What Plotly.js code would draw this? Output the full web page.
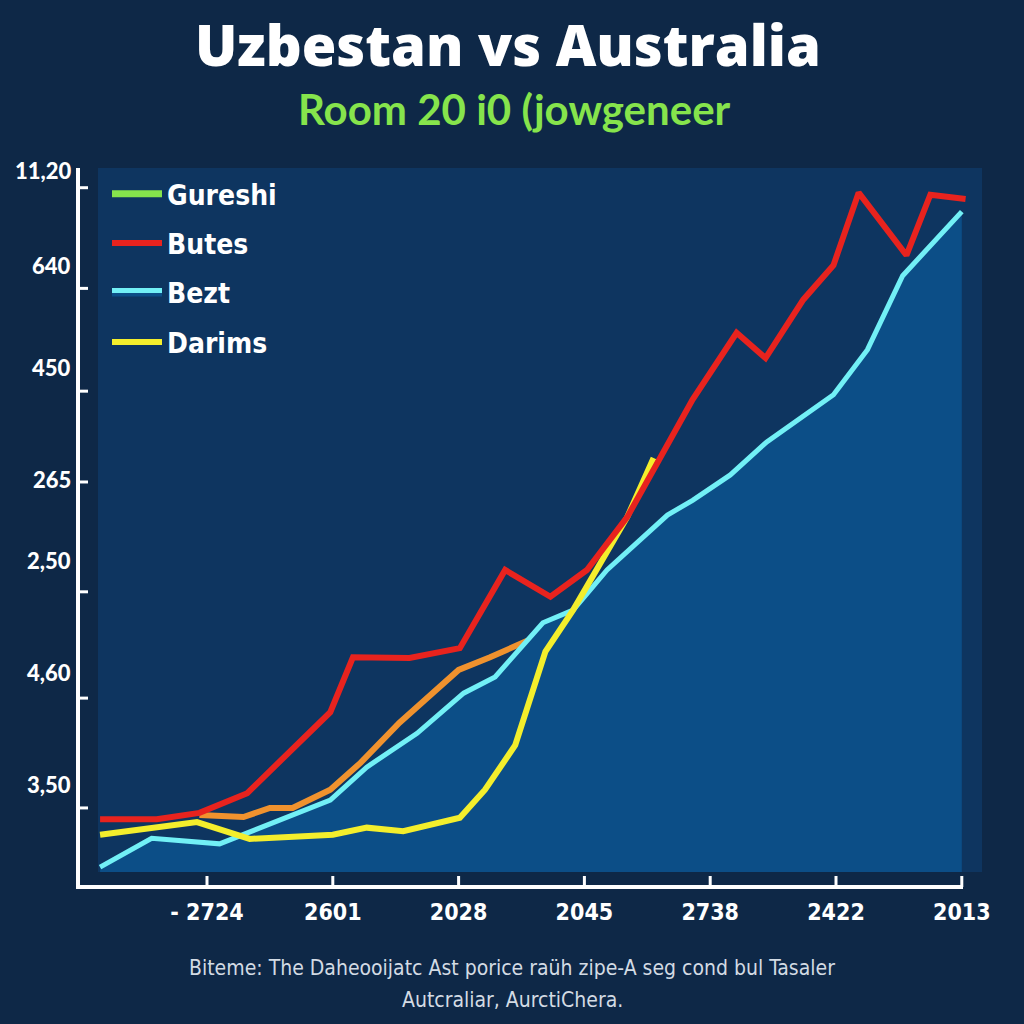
<!DOCTYPE html>
<html>
<head>
<meta charset="utf-8">
<script src="https://cdn.plot.ly/plotly-3.0.1.min.js"></script>
<style>
  html, body { margin: 0; padding: 0; background: #0e2847; }
  #chart { width: 1024px; height: 1024px; }
</style>
</head>
<body>
<div id="chart"></div>
<script>
// ---- Data ----
const titleText = "Uzbestan vs Australia";
const subtitleText = "Room 20 i0 (jowgeneer";
const footerLine1 = "Biteme: The Daheoo\u0133atc Ast porice ra\u00fch zipe-A seg cond bul Tasaler";
const footerLine2 = "Autcraliar, AurctiChera.";

const xTickVals = [1, 2, 3, 4, 5, 6, 7];
const xTickText = ["- 2724", "2601", "2028", "2045", "2738", "2422", "2013"];

const yTickVals = [97.2, 82.9, 68.3, 55.4, 39.8, 24.7, 9.1];
const yLabelVals = [99.7, 86.2, 71.6, 55.7, 44.2, 28.4, 12.4, -1.4];
const yLabelText = ["11,20", "640", "450", "265", "2,50", "4,60", "3,50", "0"];

const seriesNames = ["Gureshi", "Butes", "Bezt", "Darims"];

const butesX = [0.15, 0.60, 0.94, 1.32, 1.98, 2.16, 2.61, 3.01, 3.37, 3.73, 4.02, 4.34, 4.86, 5.21, 5.44, 5.74, 5.98, 6.18, 6.56, 6.75, 7.03];
const butesY = [7.5, 7.5, 8.4, 11.2, 22.7, 30.5, 30.4, 31.8, 42.9, 39.1, 42.9, 50.4, 67.1, 76.6, 73.0, 81.3, 86.2, 96.5, 87.6, 96.2, 95.6];

const beztX = [0.15, 0.56, 1.10, 1.45, 1.68, 1.98, 2.27, 2.67, 3.04, 3.29, 3.67, 3.91, 4.18, 4.66, 4.86, 5.16, 5.45, 5.98, 6.25, 6.53, 7.00];
const beztY = [0.7, 4.8, 4.0, 6.4, 8.1, 10.2, 14.9, 19.7, 25.4, 27.7, 35.4, 37.2, 42.9, 50.7, 52.8, 56.4, 61.1, 67.8, 74.2, 84.7, 93.8];

const darimsX = [0.15, 0.92, 1.34, 2.00, 2.27, 2.56, 3.01, 3.21, 3.45, 3.69, 3.91, 4.34, 4.55];
const darimsY = [5.3, 7.1, 4.7, 5.3, 6.3, 5.8, 7.7, 11.7, 18.0, 31.3, 37.2, 50.4, 58.8];

const orangeX = [0.94, 1.29, 1.50, 1.68, 1.98, 2.22, 2.53, 3.00, 3.25, 3.78];
const orangeY = [8.1, 7.8, 9.1, 9.1, 11.7, 15.5, 21.2, 28.7, 30.5, 34.7];

const gureshiX = [null];
const gureshiY = [null];

// ---- Styles ----
const C = {
  paper: "#0e2847",
  plot: "#0e3560",
  fill: "#0c4e87",
  red: "#e8231e",
  cyan: "#72f0f6",
  yellow: "#f4ee2c",
  orange: "#f0922e",
  green: "#86e44c",
  white: "#ffffff"
};
const COND = "DejaVu Sans Condensed, Liberation Sans Narrow, Roboto, sans-serif";
const HEAVY = "Lato, Open Sans, DejaVu Sans, sans-serif";
const TITLEF = "Open Sans, Lato, DejaVu Sans, sans-serif";

// plot area geometry in pixels (for placing decorations outside it)
const L = 98, R = 982, T = 168, B = 872;
const W = R - L, H = B - T;
const px2paperX = px => (px - L) / W;
const px2paperY = py => (B - py) / H;
function px2t(px) { return 1 + (px - 207) / 125.8; }

const traces = [
  { name: seriesNames[0], x: gureshiX, y: gureshiY, type: "scatter", mode: "lines",
    line: { color: C.green, width: 7 }, legendgroup: "g1", legendrank: 1 },
  { name: "orange", x: orangeX, y: orangeY, type: "scatter", mode: "lines",
    line: { color: C.orange, width: 6 }, showlegend: false },
  { name: seriesNames[2], x: beztX, y: beztY, type: "scatter", mode: "lines",
    fill: "tozeroy", fillcolor: C.fill,
    line: { color: C.cyan, width: 5 }, legendgroup: "g3", legendrank: 3 },
  { name: seriesNames[3], x: darimsX, y: darimsY, type: "scatter", mode: "lines",
    line: { color: C.yellow, width: 6 }, legendgroup: "g4", legendrank: 4 },
  { name: seriesNames[1], x: butesX, y: butesY, type: "scatter", mode: "lines",
    line: { color: C.red, width: 6 }, legendgroup: "g2", legendrank: 2 }
];

const shapes = [];
const axisLine = { color: C.white, width: 4 };
shapes.push({ type: "line", xref: "paper", yref: "paper",
  x0: px2paperX(78), x1: px2paperX(78), y0: px2paperY(887), y1: 1, line: axisLine });
shapes.push({ type: "line", xref: "paper", yref: "paper",
  x0: px2paperX(76), x1: px2paperX(963), y0: px2paperY(887), y1: px2paperY(887), line: axisLine });
yTickVals.forEach(v => shapes.push({ type: "line", xref: "paper", yref: "y",
  x0: px2paperX(78), x1: px2paperX(88), y0: v, y1: v, line: { color: C.white, width: 3 } }));
xTickVals.forEach(v => shapes.push({ type: "line", xref: "x", yref: "paper",
  x0: v, x1: v, y0: px2paperY(887), y1: px2paperY(876), line: { color: C.white, width: 3 } }));

const annotations = [];
yLabelVals.forEach((v, i) => annotations.push({
  xref: "paper", yref: "y", x: px2paperX(73), y: v, xanchor: "right", yanchor: "middle",
  text: yLabelText[i], showarrow: false,
  font: { family: HEAVY, size: 22, weight: 900, color: C.white }
}));
annotations.push({
  xref: "paper", yref: "paper", x: px2paperX(514), y: px2paperY(109),
  xanchor: "center", yanchor: "middle", text: subtitleText, showarrow: false,
  font: { family: HEAVY, size: 42, weight: 700, color: C.green }
});
annotations.push({
  xref: "paper", yref: "paper", x: px2paperX(512), y: px2paperY(968),
  xanchor: "center", yanchor: "middle", text: footerLine1, showarrow: false,
  font: { family: COND, size: 21, color: "#d3dbe4" }
});
annotations.push({
  xref: "paper", yref: "paper", x: px2paperX(512), y: px2paperY(1000),
  xanchor: "center", yanchor: "middle", text: footerLine2, showarrow: false,
  font: { family: COND, size: 21, color: "#d3dbe4" }
});

const layout = {
  width: 1024, height: 1024,
  paper_bgcolor: C.paper, plot_bgcolor: C.plot,
  margin: { l: L, r: 1024 - R, t: T, b: 1024 - B, pad: 0 },
  title: {
    text: titleText, x: 0.496, xanchor: "center", xref: "container",
    y: 1 - 46 / 1024, yref: "container", yanchor: "middle",
    font: { family: TITLEF, size: 56, weight: 800, color: C.white }
  },
  xaxis: {
    range: [px2t(L), px2t(R)], showgrid: false, zeroline: false, showline: false,
    tickvals: xTickVals, ticktext: xTickText, ticks: "", ticklabelstandoff: 24,
    tickfont: { family: COND, size: 23, weight: 700, color: C.white }, fixedrange: true
  },
  yaxis: {
    range: [0, 100], showgrid: false, zeroline: false, showline: false,
    showticklabels: false, ticks: "", fixedrange: true
  },
  legend: {
    x: px2paperX(107), y: px2paperY(169), xanchor: "left", yanchor: "top",
    bgcolor: "rgba(0,0,0,0)", tracegroupgap: 10, itemwidth: 50,
    font: { family: COND, size: 28, weight: 700, color: C.white }
  },
  showlegend: true,
  shapes: shapes,
  annotations: annotations
};

Plotly.newPlot("chart", traces, layout, { displayModeBar: false, staticPlot: true });
</script>
</body>
</html>
